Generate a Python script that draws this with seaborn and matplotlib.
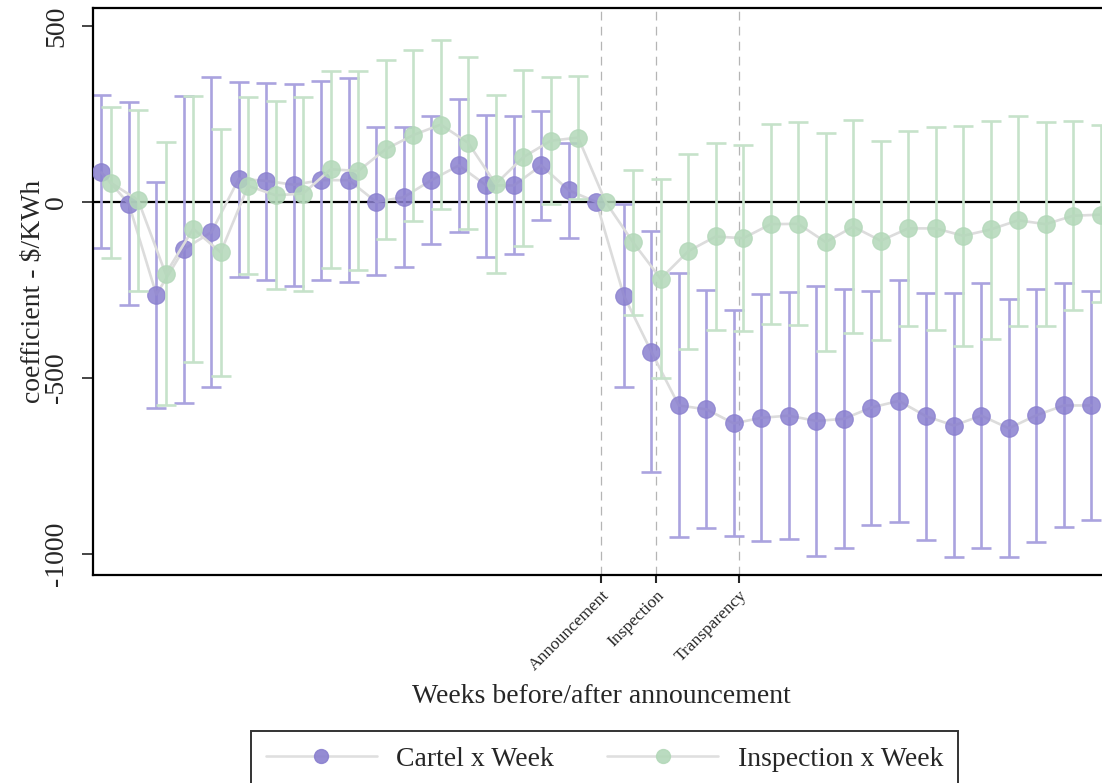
import numpy as np
import pandas as pd
import matplotlib
matplotlib.use("Agg")
import matplotlib.pyplot as plt
import seaborn as sns
from matplotlib.lines import Line2D

# ---------------- data ----------------
weeks = list(range(-18, 19))

cartel_coef = [84, -5, -263, -134, -86, 66, 60, 49, 62, 62, 0, 14, 62, 104, 47, 47, 104, 33,
               0,
               -266, -425, -578, -589, -629, -613, -607, -622, -616, -584, -565, -609, -635,
               -607, -643, -606, -578, -578]
cartel_hi = [303, 283, 58, 300, 354, 342, 339, 336, 345, 352, 212, 213, 245, 292, 247, 243, 259, 168,
             0,
             -5, -83, -202, -250, -308, -262, -256, -238, -246, -252, -221, -259, -259,
             -231, -276, -246, -231, -252]
cartel_lo = [-132, -293, -585, -570, -526, -214, -222, -238, -223, -228, -208, -184, -120, -85, -156,
             -147, -50, -101,
             0,
             -526, -766, -952, -925, -948, -962, -957, -1006, -984, -917, -908, -959, -1008,
             -982, -1009, -967, -922, -902]

insp_coef = [55, 5, -204, -76, -143, 46, 19, 24, 93, 88, 150, 190, 220, 168, 51, 127, 174, 183,
             0,
             -115, -218, -140, -98, -103, -63, -62, -114, -70, -110, -75, -75, -96, -78, -52,
             -63, -39, -36]
insp_hi = [270, 262, 170, 302, 206, 298, 286, 298, 373, 372, 402, 431, 461, 411, 304, 376, 356, 357,
           0,
           92, 66, 137, 167, 161, 222, 226, 195, 234, 172, 203, 213, 215, 231, 245, 228, 231, 218]
insp_lo = [-160, -252, -577, -454, -493, -205, -246, -252, -188, -192, -105, -53, -21, -77, -202,
           -125, -7, 9,
           0,
           -322, -499, -419, -363, -367, -346, -350, -422, -371, -393, -353, -364, -409, -388,
           -352, -351, -308, -285]

event_weeks = [0, 2, 5]
event_labels = ["Announcement", "Inspection", "Transparency"]
yticks = [-1000, -500, 0, 500]
series_names = ["Cartel x Week", "Inspection x Week"]

# ---------------- style ----------------
sns.set_style("white")
plt.rcParams["font.family"] = ["Liberation Serif", "DejaVu Serif"]

purple_bar = "#aaa3df"
purple_mk = "#8a80cf"
green_bar = "#c6e2ca"
green_mk = "#b3d8b9"
line_gray = "#dcdcdc"

W, H = 1102, 783
fig = plt.figure(figsize=(W / 100, H / 100), dpi=100)
left_px, right_px, top_px, bot_px = 93, 1115, 8, 575
ax = fig.add_axes([left_px / W, 1 - bot_px / H, (right_px - left_px) / W, (bot_px - top_px) / H])

off = 0.17
df_c = pd.DataFrame({"week": weeks, "coef": cartel_coef, "lo": cartel_lo, "hi": cartel_hi})
df_c["x"] = df_c["week"] - off
df_i = pd.DataFrame({"week": weeks, "coef": insp_coef, "lo": insp_lo, "hi": insp_hi})
df_i["x"] = df_i["week"] + off

# reference lines
ax.axhline(0, color="black", lw=1.6, zorder=1)
for w in event_weeks:
    ax.axvline(w, color="#b5b5b5", lw=0.9, dashes=(7, 5), zorder=1)

def draw_series(df, bar_c, mk_c, z):
    d = df[df["week"] != 0]
    ax.errorbar(d["x"], d["coef"], yerr=[d["coef"] - d["lo"], d["hi"] - d["coef"]],
                fmt="none", ecolor=bar_c, elinewidth=1.9, capsize=7, capthick=1.9, zorder=z)
    sns.lineplot(data=df, x="x", y="coef", ax=ax, color=line_gray, lw=1.9, zorder=z + 1,
                 legend=False, estimator=None, sort=False)
    sns.scatterplot(data=df, x="x", y="coef", ax=ax, color=mk_c, s=160, alpha=0.85,
                    edgecolor=mk_c, linewidth=0.8, zorder=z + 2, legend=False)

draw_series(df_c, purple_bar, purple_mk, 2)
draw_series(df_i, green_bar, green_mk, 5)

# axes limits (px-based mapping)
px_per_week = 27.5
x0_px = 601
ax.set_xlim((left_px - x0_px) / px_per_week, (right_px - x0_px) / px_per_week)
ax.set_ylim((202 - bot_px) * 500 / 176, (202 - top_px) * 500 / 176)

ax.set_xticks(event_weeks)
ax.set_xticklabels(event_labels, rotation=45, ha="right", rotation_mode="anchor", fontsize=12.5)
ax.set_yticks(yticks)
ax.set_yticklabels([str(v) for v in yticks], rotation=90, va="center", fontsize=20)
ax.tick_params(axis="x", direction="out", length=6, width=1.5, pad=3, bottom=True)
ax.tick_params(axis="y", direction="out", length=8, width=1.2, pad=9, left=True)

for s in ["left", "bottom", "top", "right"]:
    ax.spines[s].set_color("black")
    ax.spines[s].set_linewidth(1.6)

ax.set_xlabel("Weeks before/after announcement", fontsize=20)
ax.set_ylabel("coefficient - $/KWh", fontsize=20)
ax.xaxis.set_label_coords((601 - left_px) / (right_px - left_px), -(684 - bot_px) / (bot_px - top_px))
ax.yaxis.set_label_coords(-(93 - 46) / (right_px - left_px), 0.5)

handles = [
    Line2D([0], [0], color=line_gray, lw=1.9, marker="o", markersize=10,
           markerfacecolor=purple_mk, markeredgecolor=purple_mk, alpha=0.9),
    Line2D([0], [0], color=line_gray, lw=1.9, marker="o", markersize=10,
           markerfacecolor=green_mk, markeredgecolor=green_mk, alpha=0.9),
]
leg = fig.legend(handles, series_names, loc="upper center", ncol=2,
                 bbox_to_anchor=(604.5 / W, 1 - 731 / H), borderaxespad=0, fontsize=20,
                 frameon=True, fancybox=False, edgecolor="black", handlelength=4,
                 handletextpad=0.7, columnspacing=1.9, borderpad=0.55)
leg.get_frame().set_linewidth(1.4)

fig.savefig("out.png", dpi=100)
